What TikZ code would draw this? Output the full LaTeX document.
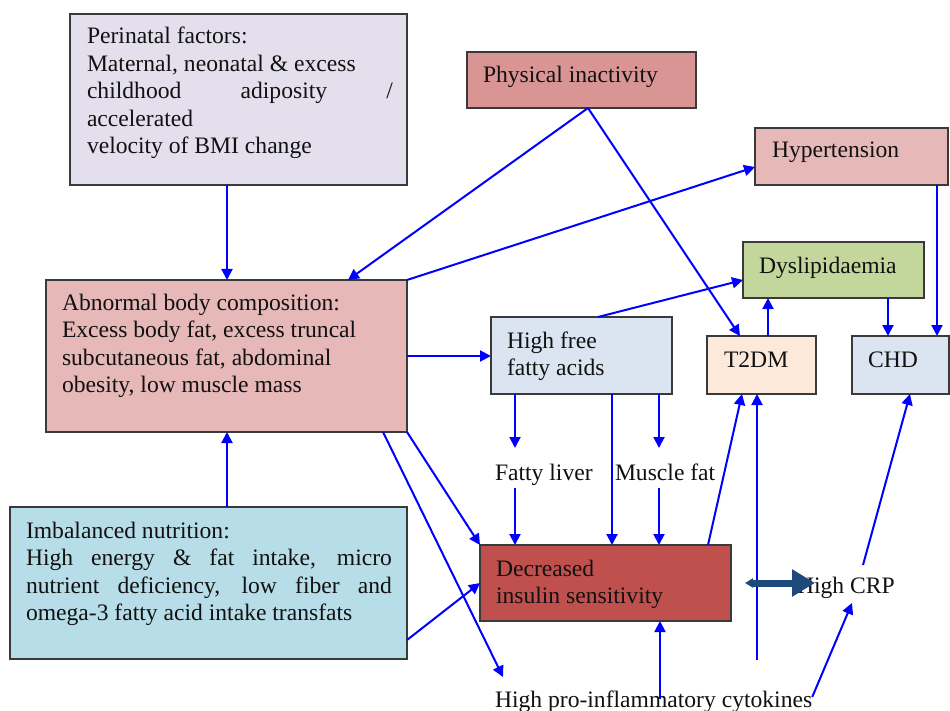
\documentclass[tikz,border=0pt]{standalone}
\usepackage{fontspec}
\setmainfont{Liberation Serif}
\usetikzlibrary{arrows.meta,calc}
\definecolor{cperi}{HTML}{E4DFEC}
\definecolor{cphys}{HTML}{D99594}
\definecolor{cpink}{HTML}{E6B8B7}
\definecolor{cdysl}{HTML}{C3D69B}
\definecolor{cblue}{HTML}{DBE5F1}
\definecolor{ct2dm}{HTML}{FDE9D9}
\definecolor{cnutr}{HTML}{B7DEE8}
\definecolor{cdis}{HTML}{C0504D}
\definecolor{boxline}{HTML}{3A3A3A}
\definecolor{arrblue}{HTML}{0000FF}
\definecolor{fatblue}{HTML}{1F497D}
\definecolor{textcol}{HTML}{111111}
\begin{document}
\begin{tikzpicture}[x=1pt,y=-1pt,
  box/.style={draw=boxline,line width=1.1pt,rectangle,anchor=north west,inner sep=0pt,outer sep=0pt},
  txt/.style={anchor=base west,inner sep=0pt,outer sep=0pt,font=\fontsize{23.6}{27.5}\selectfont,text=textcol},
  arr/.style={draw=arrblue,line width=2pt,-{Triangle[length=11pt,width=11pt]}},
  fatarr/.style={draw=fatblue,line width=7pt,{Triangle[length=8pt,width=9pt]}-{Triangle[length=23pt,width=26pt]}}]
\useasboundingbox (0,0) rectangle (950,711);
\fill[white] (0,0) rectangle (950,711);
% boxes
\node[box,fill=cperi,minimum width=337pt,minimum height=171pt] (peri) at (70,14) {};
\node[box,fill=cphys,minimum width=229pt,minimum height=56pt] (phys) at (467,52) {};
\node[box,fill=cpink,minimum width=193pt,minimum height=57pt] (hyper) at (755,128) {};
\node[box,fill=cdysl,minimum width=181pt,minimum height=56pt] (dysl) at (743,242) {};
\node[box,fill=cpink,minimum width=361pt,minimum height=152pt] (abn) at (46,280) {};
\node[box,fill=cblue,minimum width=181pt,minimum height=77pt] (hffa) at (491,317) {};
\node[box,fill=ct2dm,minimum width=109pt,minimum height=58pt] (t2dm) at (707,336) {};
\node[box,fill=cblue,minimum width=97pt,minimum height=58pt] (chd) at (852,336) {};
\node[box,fill=cnutr,minimum width=397pt,minimum height=152pt] (nutr) at (10,507) {};
\node[box,fill=cdis,minimum width=251pt,minimum height=76pt] (dis) at (480,545) {};
% texts
\node[txt] (peritxt) at (87,44) {\parbox[t]{306pt}{\raggedright Perinatal factors:\\Maternal, neonatal \& excess\\\makebox[306pt][s]{childhood adiposity /}\\accelerated\\velocity of BMI change}};
\node[txt] (phystxt) at (483,83) {Physical inactivity};
\node[txt] (hypertxt) at (772,158) {Hypertension};
\node[txt] (dysltxt) at (759,273) {Dyslipidaemia};
\node[txt] (abntxt) at (62,310) {\parbox[t]{340pt}{\raggedright Abnormal body composition:\\Excess body fat, excess truncal\\subcutaneous fat, abdominal\\obesity, low muscle mass}};
\node[txt] (hffatxt) at (507,348) {\parbox[t]{160pt}{\raggedright High free\\fatty acids}};
\node[txt] (t2dmtxt) at (724,367) {T2DM};
\node[txt] (chdtxt) at (868,367) {CHD};
\node[txt] (nutrtxt) at (26,538) {\parbox[t]{366pt}{\raggedright Imbalanced nutrition:\\\makebox[366pt][s]{High energy \& fat intake, micro}\\\makebox[366pt][s]{nutrient deficiency, low fiber and}\\omega-3 fatty acid intake transfats}};
\node[txt] (distxt) at (496,576) {\parbox[t]{220pt}{\raggedright Decreased\\insulin sensitivity}};
\node[txt] (fl) at (495,480) {Fatty liver};
\node[txt] (mf) at (615,480) {Muscle fat};
\node[txt] (crp) at (797,593) {High CRP};
\node[txt] (cyto) at (495,707) {High pro-inflammatory cytokines};
\coordinate (cup) at (757,660);
% connectors
\draw[arr] ($(peri.south west)+(157,0)$) -- ($(abn.north west)+(181,0)$);
\draw[arr] ($(phys.south west)+(121,0)$) -- ($(abn.north west)+(302,0)$);
\draw[arr] ($(phys.south west)+(121,0)$) -- ($(t2dm.north west)+(33,0)$);
\draw[arr] (abn.north east) -- ($(hyper.south west)+(0,-18)$);
\draw[arr] (abn.east) -- (abn.east -| hffa.west);
\draw[arr] ($(hffa.north west)+(107,0)$) -- ($(dysl.south west)+(0,-18)$);
\draw[arr] ($(t2dm.north west)+(61,0)$) -- ($(dysl.south west)+(25,0)$);
\draw[arr] ($(dysl.south west)+(145,0)$) -- ($(chd.north west)+(36,0)$);
\draw[arr] ($(hyper.south east)+(-11,0)$) -- ($(chd.north west)+(85,0)$);
\draw[arr] ($(hffa.south west)+(24,0)$) -- ($(fl.base west)+(20,-32)$);
\draw[arr] ($(hffa.south west)+(168,0)$) -- ($(mf.base west)+(44,-32)$);
\draw[arr] ($(hffa.south west)+(121,0)$) -- ($(dis.north west)+(132,0)$);
\draw[arr] ($(fl.base west)+(20,8)$) -- ($(dis.north west)+(35,0)$);
\draw[arr] ($(mf.base west)+(44,8)$) -- ($(dis.north west)+(179,0)$);
\draw[arr] (abn.south east) -- (dis.north west);
\draw[arr] ($(abn.south east)+(-24,0)$) -- ($(cyto.base west)+(8,-30)$);
\draw[arr] ($(nutr.north west)+(217,0)$) -- ($(abn.south west)+(181,0)$);
\draw[arr] ($(nutr.south east)+(0,-19)$) -- (dis.west);
\draw[arr] ($(dis.north east)+(-23,0)$) -- ($(t2dm.south west)+(35,0)$);
\draw[arr] (cup) -- ($(t2dm.south west)+(50,0)$);
\draw[arr] ($(cyto.base west)+(165,-8)$) -- ($(dis.south west)+(180,0)$);
\draw[arr] ($(cyto.base east)+(0,-10)$) -- ($(crp.base west)+(55,10)$);
\draw[arr] ($(crp.base west)+(66,-28)$) -- ($(chd.south west)+(58,0)$);
\draw[fatarr] ($(dis.east)+(14,0)$) -- ($(dis.east -| crp.west)+(18,0)$);
\end{tikzpicture}
\end{document}
